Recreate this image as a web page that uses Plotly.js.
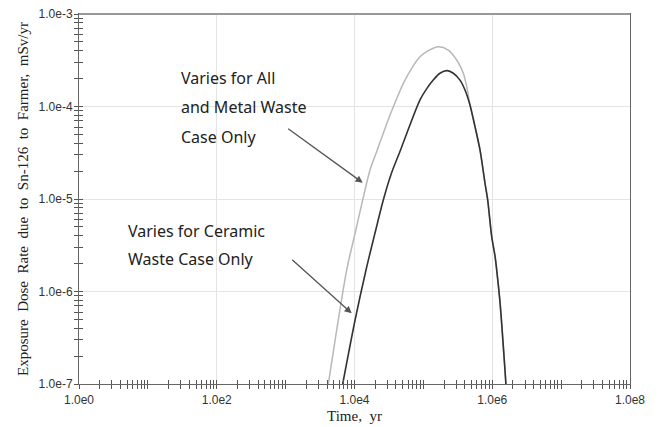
<!DOCTYPE html>
<html>
<head>
<meta charset="utf-8">
<script src="https://cdn.plot.ly/plotly-3.0.1.min.js"></script>
<style>html,body{margin:0;padding:0;background:#fff;}#chart{width:661px;height:427px;}</style>
</head>
<body>
<div id="chart"></div>
<script>
// Time (yr) and dose rate (mSv/yr)
const timeAllMetal = [4170, 7710, 10200, 13150, 16800, 21400, 34700, 54100, 89300, 118000, 165000, 230000, 305000, 380000, 426000, 475000, 562000, 664000, 785000, 859000, 982000, 1100000, 1160000, 1300000, 1580000];
const doseAllMetal = [1e-7, 1.71e-6, 4.26e-6, 9.75e-6, 2.06e-5, 3.39e-5, 9.0e-5, 1.93e-4, 3.45e-4, 4.01e-4, 4.43e-4, 4.08e-4, 3.18e-4, 2.29e-4, 1.64e-4, 1.04e-4, 6.05e-5, 3.39e-5, 1.48e-5, 9.75e-6, 3.91e-6, 2.38e-6, 1.71e-6, 7.45e-7, 1e-7];

const timeCeramic = [6740, 10200, 14700, 19800, 26200, 33700, 46600, 89300, 112000, 139000, 174000, 222000, 272000, 340000, 402000, 475000, 562000, 664000, 785000, 859000, 982000, 1100000, 1160000, 1300000, 1580000];
const doseCeramic = [1e-7, 4.92e-7, 1.71e-6, 4.26e-6, 9.75e-6, 1.82e-5, 3.39e-5, 1.18e-4, 1.56e-4, 1.93e-4, 2.29e-4, 2.44e-4, 2.29e-4, 1.93e-4, 1.51e-4, 1.04e-4, 6.05e-5, 3.39e-5, 1.48e-5, 9.75e-6, 3.91e-6, 2.38e-6, 1.71e-6, 7.45e-7, 1e-7];

const xTickVals = [1, 1e2, 1e4, 1e6, 1e8];
const xTickText = ["1.0e0", "1.0e2", "1.0e4", "1.0e6", "1.0e8"];
const yTickVals = [1e-7, 1e-6, 1e-5, 1e-4, 1e-3];
const yTickText = ["1.0e-7", "1.0e-6", "1.0e-5", "1.0e-4", "1.0e-3"];

// minor tick positions (1..9 per decade)
const xMinor = [];
for (let d = 0; d < 8; d++) for (let m = 1; m <= 9; m++) xMinor.push(m * Math.pow(10, d));
xMinor.push(1e8);
const yMinor = [];
for (let d = -7; d < -3; d++) for (let m = 1; m <= 9; m++) yMinor.push(m * Math.pow(10, d));
yMinor.push(1e-3);

const traces = [
  {x: timeAllMetal, y: doseAllMetal, mode: 'lines', line: {color: '#b8b8b8', width: 1.5, shape: 'spline', smoothing: 0.8}, hoverinfo: 'skip', showlegend: false},
  {x: timeCeramic, y: doseCeramic, mode: 'lines', line: {color: '#333333', width: 1.6, shape: 'spline', smoothing: 0.8}, hoverinfo: 'skip', showlegend: false},
  {x: [], y: [], xaxis: 'x2', yaxis: 'y2', showlegend: false},
  {x: [], y: [], xaxis: 'x3', yaxis: 'y3', showlegend: false}
];

const tickAx = (over, dir, vals, rng, extra) => Object.assign({
  type: 'log', overlaying: over, range: rng, tickmode: 'array', tickvals: vals,
  ticks: dir, ticklen: 4, tickwidth: 1, tickcolor: '#555', showticklabels: false,
  showgrid: false, showline: false, zeroline: false, fixedrange: true
}, extra);

const serif = 'Liberation Serif, DejaVu Serif, serif';
const textFont = {family: 'Noto Sans, Open Sans, sans-serif', size: 16, color: '#222'};

const layout = {
  width: 661, height: 427,
  margin: {l: 79, r: 31, t: 14, b: 43, pad: 0},
  paper_bgcolor: '#fff', plot_bgcolor: '#fff',
  showlegend: false,
  xaxis: {
    type: 'log', range: [0, 8], tickmode: 'array', tickvals: xTickVals, ticktext: xTickText,
    ticks: '', showgrid: true, gridcolor: '#e4e4e4', gridwidth: 1,
    showline: true, linecolor: '#666', linewidth: 1, mirror: true, zeroline: false,
    tickfont: {family: 'Liberation Sans, Arial, sans-serif', size: 12, color: '#333'},
    ticklabelstandoff: 5,
    title: {text: 'Time,  yr', font: {family: serif, size: 15, color: '#222'}, standoff: 4}
  },
  yaxis: {
    type: 'log', range: [-7, -3], tickmode: 'array', tickvals: yTickVals, ticktext: yTickText,
    ticks: '', showgrid: true, gridcolor: '#e4e4e4', gridwidth: 1,
    showline: true, linecolor: '#666', linewidth: 1, mirror: true, zeroline: false,
    tickfont: {family: 'Liberation Sans, Arial, sans-serif', size: 12, color: '#333'},
    ticklabelstandoff: 3,
    title: {text: 'Exposure  Dose  Rate  due  to  Sn-126  to  Farmer,  mSv/yr', font: {family: serif, size: 15, color: '#222'}, standoff: 6}
  },
  xaxis2: tickAx('x', 'outside', xMinor, [0, 8], {anchor: 'y2'}),
  yaxis2: tickAx('y', 'outside', yMinor, [-7, -3], {anchor: 'x2'}),
  xaxis3: tickAx('x', 'inside', xMinor, [0, 8], {anchor: 'y3'}),
  yaxis3: tickAx('y', 'inside', yMinor, [-7, -3], {anchor: 'x3'}),
  shapes: [
    {type: 'line', xref: 'paper', yref: 'paper', x0: 0, x1: 1, y0: 1, y1: 1, line: {color: '#999', width: 2}}
  ],
  annotations: [
    {xref: 'paper', yref: 'paper', x: 0.1815, y: 0.826, xanchor: 'left', yanchor: 'middle', text: 'Varies for All', showarrow: false, font: textFont},
    {xref: 'paper', yref: 'paper', x: 0.1815, y: 0.748, xanchor: 'left', yanchor: 'middle', text: 'and Metal Waste', showarrow: false, font: textFont},
    {xref: 'paper', yref: 'paper', x: 0.1815, y: 0.668, xanchor: 'left', yanchor: 'middle', text: 'Case Only', showarrow: false, font: textFont},
    {xref: 'paper', yref: 'paper', x: 0.0848, y: 0.4143, xanchor: 'left', yanchor: 'middle', text: 'Varies for Ceramic', showarrow: false, font: textFont},
    {xref: 'paper', yref: 'paper', x: 0.0848, y: 0.337, xanchor: 'left', yanchor: 'middle', text: 'Waste Case Only', showarrow: false, font: textFont},
    {xref: 'paper', yref: 'paper', x: 0.5149, y: 0.544, text: '', showarrow: true, axref: 'pixel', ayref: 'pixel', ax: -76, ay: -55, arrowhead: 2, arrowsize: 1.1, arrowwidth: 1.3, arrowcolor: '#555', standoff: 0},
    {xref: 'paper', yref: 'paper', x: 0.4949, y: 0.191, text: '', showarrow: true, axref: 'pixel', ayref: 'pixel', ax: -61, ay: -55, arrowhead: 2, arrowsize: 1.1, arrowwidth: 1.3, arrowcolor: '#555', standoff: 0}
  ]
};

Plotly.newPlot('chart', traces, layout, {displayModeBar: false, staticPlot: true});
</script>
</body>
</html>
